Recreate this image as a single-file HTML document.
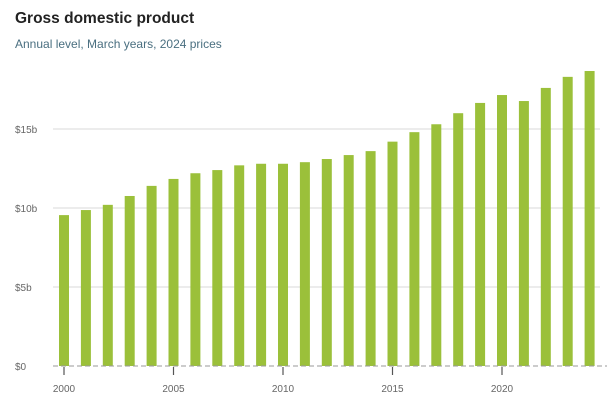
<!DOCTYPE html>
<html><head><meta charset="utf-8"><style>
body{margin:0;background:#fff;width:615px;height:410px;overflow:hidden;font-family:"Liberation Sans",sans-serif}
#t{position:absolute;left:15px;top:10px;font-size:15.5px;font-weight:bold;color:#222}
#s{position:absolute;left:15px;top:37px;font-size:12px;color:#4a6f80}
svg{position:absolute;left:0;top:0}
</style></head><body>
<div id="t">Gross domestic product</div>
<div id="s">Annual level, March years, 2024 prices</div>
<svg id="c" width="615" height="410"></svg>
<script>
const years=[2000,2001,2002,2003,2004,2005,2006,2007,2008,2009,2010,2011,2012,2013,2014,2015,2016,2017,2018,2019,2020,2021,2022,2023,2024];
const values=[9.55,9.87,10.2,10.76,11.4,11.84,12.2,12.4,12.7,12.8,12.8,12.9,13.1,13.35,13.6,14.2,14.8,15.3,16.0,16.65,17.15,16.77,17.6,18.3,18.67];
const yTicks=[0,5,10,15];
const yTickLabels=["$0","$5b","$10b","$15b"];
const xTicks=[2000,2005,2010,2015,2020];
const NS="http://www.w3.org/2000/svg",svg=document.getElementById('c');
const y=v=>366-v*15.8, x=yr=>64+(yr-2000)*21.9;
function mk(t,a){const e=document.createElementNS(NS,t);for(const k in a)e.setAttribute(k,a[k]);svg.appendChild(e);return e;}
yTicks.forEach((v,i)=>{
 if(v>0){const l=mk('line',{x1:53,x2:600,y1:y(v),y2:y(v),stroke:'#d8d8d8','stroke-width':1});
 
 }
 const t=mk('text',{x:15,y:y(v)+4,'font-size':10,fill:'#666'});t.textContent=yTickLabels[i];
 
 
});
years.forEach((yr,i)=>{
 const r=mk('rect',{x:x(yr)-5,y:y(values[i]),width:10,height:366-y(values[i]),fill:'#9bc03a'});
 
 
});
const b=mk('line',{x1:53,x2:607,y1:366,y2:366,stroke:'#999','stroke-width':1,'stroke-dasharray':'5,3'});


xTicks.forEach(yr=>{
 const l=mk('line',{x1:x(yr),x2:x(yr),y1:367,y2:375,stroke:'#555','stroke-width':1.2});
 
 
 const t=mk('text',{x:x(yr),y:392,'font-size':10,fill:'#666','text-anchor':'middle'});t.textContent=yr;
 
 
});
</script>
</body></html>
